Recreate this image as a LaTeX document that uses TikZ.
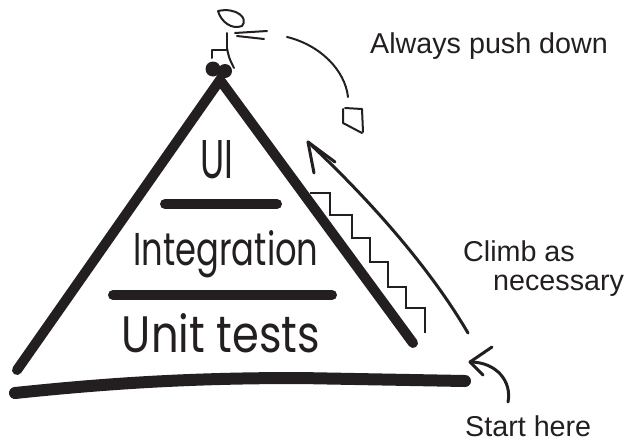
\documentclass[tikz,border=0pt]{standalone}
\usepackage{fontspec}
\setmainfont{Liberation Sans}
\newfontfamily\handfont{Poppins}
\definecolor{ink}{HTML}{231F20}

% open arrow head: tip, then the two barb ends
\providecommand{\Barbs}[3]{
\draw[pen] (#1) -- (#2);
\draw[pen] (#1) -- (#3);
}

\begin{document}
\begin{tikzpicture}[x=1pt,y=-1pt,
  marker/.style={ink,line width=10pt,line cap=round},
  pen/.style={ink,line width=3pt,line cap=round},
  fine/.style={ink,line width=2pt,line cap=round,line join=round},
  hand/.style={ink,inner sep=0pt,anchor=base},
  note/.style={ink,inner sep=0pt,anchor=base west,font=\fontsize{28.7}{32}\selectfont}]
\useasboundingbox (0,0) rectangle (629,442);

% the pyramid
\coordinate (apex) at (220,80);
\coordinate (leftfoot) at (17,370);
\coordinate (rightfoot) at (413,343);
\draw[marker] (leftfoot) -- (apex) -- (rightfoot);
\draw[marker] (165,204) -- (277,204);
\draw[marker] (113,295) -- (332,295);
\draw[marker,line width=12pt] (15,393) .. controls (120,382) and (200,378) .. (300,378) -- (465,381);

% layers
\node[hand] (ui) at (217,178) {\resizebox{33pt}{38pt}{\handfont UI}};
\node[hand] (integration) at (226,265) {\resizebox{185pt}{35pt}{\handfont Integration}};
\node[hand] (unittests) at (221,352) {\resizebox{198pt}{39pt}{\handfont Unit tests}};

% little man jumping off the top
\fill[ink] (213,69) circle[radius=7.5pt] (225,71) circle[radius=7pt];
\draw[fine] (218,11) .. controls (236,7) and (249,18) .. (242,26) .. controls (232,30) and (221,22) .. (218,11);
\draw[fine] (235,33) -- (267,31);
\draw[fine] (237,36) -- (264,39);
\draw[fine] (227,33) -- (227,50) -- (212,50) -- (212,58);
\draw[fine] (227,48) .. controls (229,58) .. (234,68);

% test pushed down the slope
\coordinate (throw) at (287,37);
\coordinate (land) at (348,97);
\draw[fine] (throw) .. controls (320,45) and (345,70) .. (land);
\draw[fine] (345,108) -- (362,109) -- (363,132);
\draw[fine] (343,109) -- (343,123) -- (362,133);

% stairs up the right side
\draw[fine,line cap=butt,line join=miter] (310,193) -| (330,215) -| (352,238) -| (370,262)
  -| (388,287) -| (406,308) -| (425,333);

% climb arrow
\coordinate (climbtail) at (468,333);
\coordinate (climbtip) at (308,142);
\draw[pen] (climbtail) .. controls (430,268) and (370,200) .. (climbtip);
\Barbs{climbtip}{314,173}{335,162}

% start arrow
\coordinate (starttail) at (508,402);
\coordinate (starttip) at (470,362);
\draw[pen] (starttail) .. controls (512,382) and (497,362) .. (starttip);
\Barbs{starttip}{492,347}{483,375}

% notes
\node[note] (push) at (370,53) {Always push down};
\node[note] (climb) at (463,261) {Climb as};
\node[note] (necessary) at (493,290) {necessary};
\node[note] (start) at (465,436) {Start here};
\end{tikzpicture}
\end{document}
